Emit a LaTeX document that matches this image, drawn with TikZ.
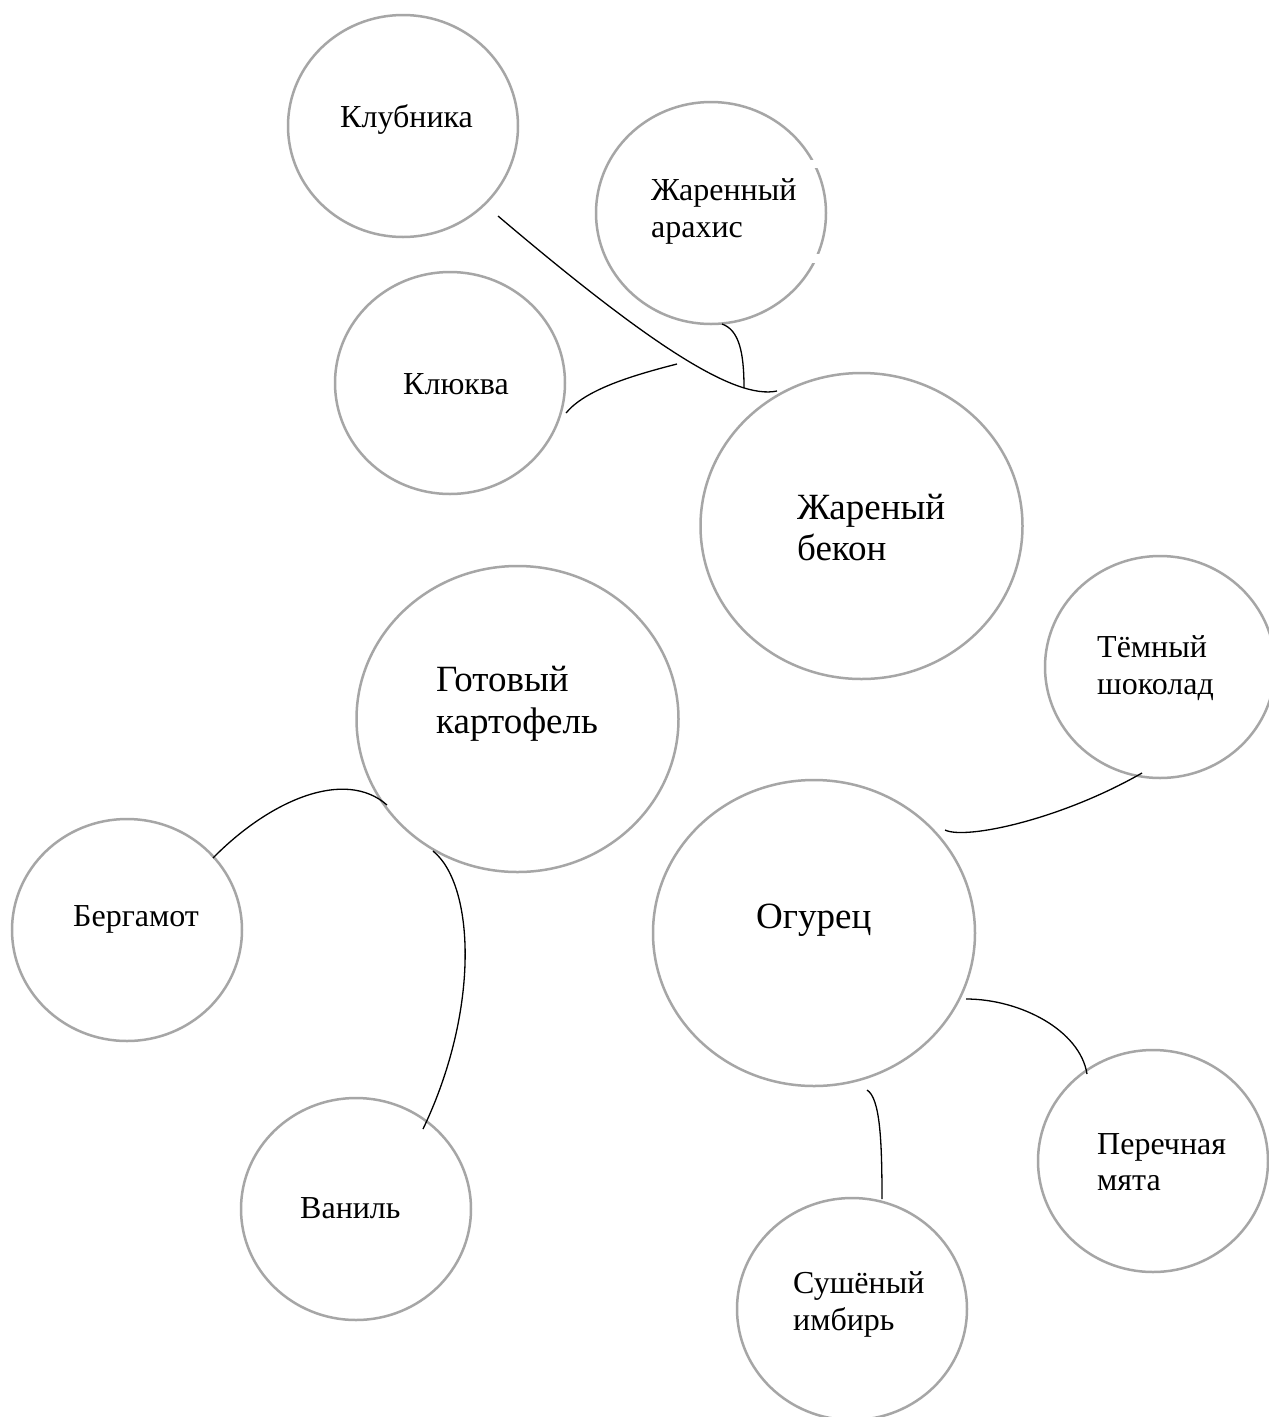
\documentclass[tikz,border=0pt]{standalone}
\usepackage{fontspec}
\setmainfont{Liberation Serif}
\usetikzlibrary{shapes.geometric}
\definecolor{bubblegray}{HTML}{A6A6A6}
\newcommand\twolines[2]{\vtop{\hbox{#1}\hbox{#2}}}
\begin{document}
\begin{tikzpicture}[x=1pt,y=-1pt,
  bubble/.style={ellipse, draw=bubblegray, line width=2.5pt, inner sep=0pt},
  smallbub/.style={bubble, minimum width=230pt, minimum height=222pt},
  bigbub/.style={bubble, minimum width=322pt, minimum height=306pt},
  lbl/.style={anchor=base west, inner sep=0pt, font=\fontsize{32}{37}\selectfont},
  lblbig/.style={anchor=base west, inner sep=0pt, font=\fontsize{37}{41}\selectfont},
  link/.style={draw=black, line width=1.3pt}]
\clip (0,0) rectangle (1269,1417);
\fill[white] (0,0) rectangle (1269,1417);

% bubbles
\node[smallbub] (klub) at (403,126) {};
\node[smallbub] (arah) at (711,213) {};
\node[smallbub] (kluk) at (450,383) {};
\node[bigbub]   (bekon) at (861.5,526) {};
\node[bigbub]   (kart) at (517.5,719) {};
\node[smallbub] (shok) at (1160,667) {};
\node[bigbub]   (ogur) at (814,933) {};
\node[smallbub] (berg) at (127,930) {};
\node[smallbub] (van) at (356,1209) {};
\node[smallbub] (myat) at (1153,1161) {};
\node[smallbub] (imb) at (852,1309) {};

% small gaps in the stroke of the peanut bubble
\fill[white] (810,160) rectangle (821,168);
\fill[white] (811,254) rectangle (822,263);

% labels
\node[lbl] (tklub) at (340,127) {Клубника};
\node[lbl] (tarah) at (651,200) {\twolines{Жаренный}{арахис}};
\node[lbl] (tkluk) at (403,394) {Клюква};
\node[lblbig] (tbekon) at (797,519) {\twolines{Жареный}{бекон}};
\node[lblbig] (tkart) at (436,691) {\fontsize{37}{42}\selectfont\twolines{Готовый}{картофель}};
\node[lbl] (tshok) at (1097,657) {\twolines{Тёмный}{шоколад}};
\node[lblbig] (togur) at (756,928) {Огурец};
\node[lbl] (tberg) at (73,926) {Бергамот};
\node[lbl] (tvan) at (300,1218) {Ваниль};
\node[lbl] (tmyat) at (1097,1154) {\fontsize{32}{36}\selectfont\twolines{Перечная}{мята}};
\node[lbl] (timb) at (793,1293) {\twolines{Сушёный}{имбирь}};

% connector end points
\coordinate (c1a) at (498,216);  \coordinate (c1b) at (777,391);
\coordinate (c2a) at (722,324);  \coordinate (c2b) at (744,388);
\coordinate (c3a) at (566,413);  \coordinate (c3b) at (677,364);
\coordinate (c4a) at (213,858);  \coordinate (c4b) at (387,805);
\coordinate (c5a) at (433,851);  \coordinate (c5b) at (423,1129);
\coordinate (c6a) at (945,830);  \coordinate (c6b) at (1142,773);
\coordinate (c7a) at (966,999);  \coordinate (c7b) at (1087,1074);
\coordinate (c8a) at (867,1090); \coordinate (c8b) at (882,1199);

% connectors
\draw[link] (c1a) .. controls (650,345) and (735,400) .. (c1b);
\draw[link] (c2a) .. controls (739,330) and (744,352) .. (c2b);
\draw[link] (c3a) .. controls (585,390) and (630,376) .. (c3b);
\draw[link] (c4a) .. controls (270,800) and (345,768) .. (c4b);
\draw[link] (c5a) .. controls (475,885) and (480,1010) .. (c5b);
\draw[link] (c6a) .. controls (965,840) and (1060,820) .. (c6b);
\draw[link] (c7a) .. controls (1020,999) and (1080,1030) .. (c7b);
\draw[link] (c8a) .. controls (880,1098) and (882,1140) .. (c8b);
\end{tikzpicture}
\end{document}
